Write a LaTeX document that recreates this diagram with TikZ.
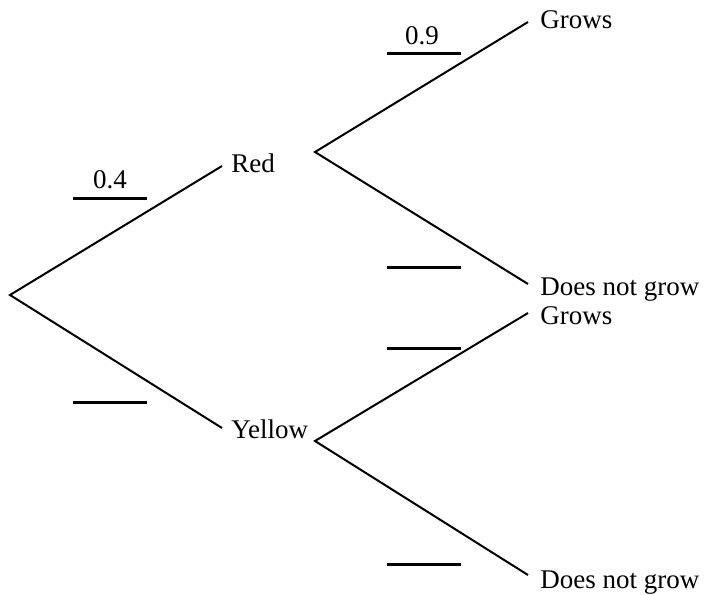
\documentclass[tikz,border=0pt]{standalone}
\usepackage{fontspec}
\setmainfont{Liberation Serif}
\begin{document}
\begin{tikzpicture}[x=0.5pt,y=-0.5pt,
  branch/.style={line width=1pt},
  blank/.style={line width=1.5pt},
  lbl/.style={anchor=base west,inner sep=0pt,font=\fontsize{13.5}{16}\selectfont},
  prob/.style={anchor=base,inner sep=0pt,font=\fontsize{13.5}{16}\selectfont}]
\useasboundingbox (0,0) rectangle (704,594);
% branch points
\coordinate (root) at (10,295);
\coordinate (redend) at (222,166);
\coordinate (yelend) at (222,428);
\coordinate (redfork) at (315,152);
\coordinate (yelfork) at (315,441);
\coordinate (rg) at (528,22);
\coordinate (rn) at (528,284);
\coordinate (yg) at (528,313);
\coordinate (yn) at (528,575);
% branches
\draw[branch] (redend) -- (root) -- (yelend);
\draw[branch] (rg) -- (redfork) -- (rn);
\draw[branch] (yg) -- (yelfork) -- (yn);
% labels
\node[lbl] (red) at (231,172) {Red};
\node[lbl] (yellow) at (231,438) {Yellow};
\node[lbl] (g1) at (540,28) {Grows};
\node[lbl] (n1) at (540,295) {Does not grow};
\node[lbl] (g2) at (540,324) {Grows};
\node[lbl] (n2) at (540,588) {Does not grow};
% blanks
\coordinate (b1a) at (73,198); \coordinate (b1b) at (147,198);
\coordinate (b2a) at (73,402); \coordinate (b2b) at (147,402);
\coordinate (b3a) at (387,53); \coordinate (b3b) at (461,53);
\coordinate (b4a) at (387,267); \coordinate (b4b) at (461,267);
\coordinate (b5a) at (387,348); \coordinate (b5b) at (461,348);
\coordinate (b6a) at (387,564); \coordinate (b6b) at (461,564);
\draw[blank] (b1a) -- (b1b);
\draw[blank] (b2a) -- (b2b);
\draw[blank] (b3a) -- (b3b);
\draw[blank] (b4a) -- (b4b);
\draw[blank] (b5a) -- (b5b);
\draw[blank] (b6a) -- (b6b);
\node[prob] (p1) at (110,188) {0.4};
\node[prob] (p2) at (422,44) {0.9};
\end{tikzpicture}
\end{document}
